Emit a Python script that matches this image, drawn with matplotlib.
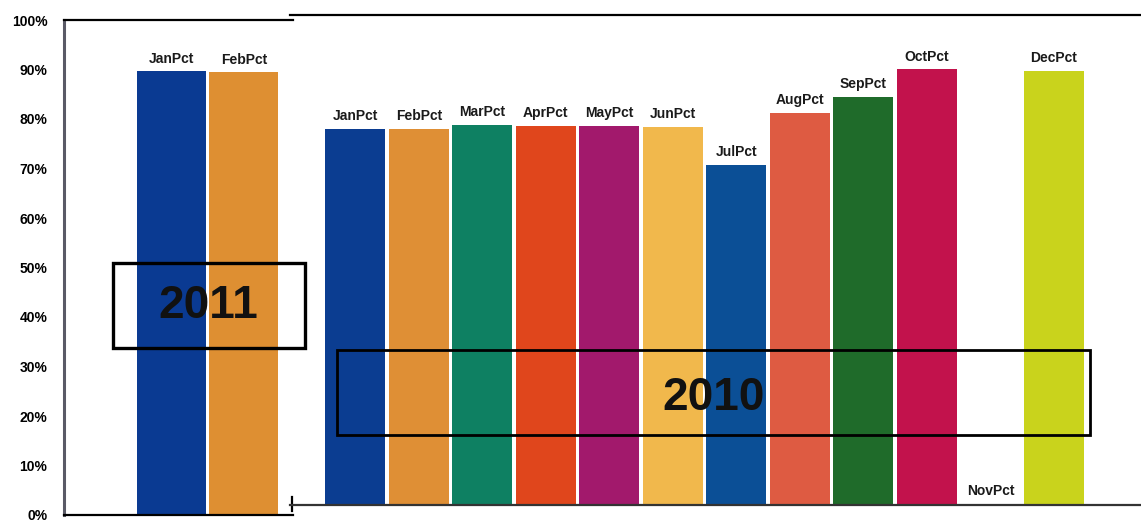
"""
Two overlaid monthly percentage bar charts (2011 and 2010).
"""

import matplotlib
matplotlib.use("Agg")
import matplotlib.pyplot as plt
from matplotlib.patches import Rectangle
from matplotlib.ticker import PercentFormatter

plt.rcParams['font.family'] = ['Liberation Sans', 'DejaVu Sans']

# data
labels_2011 = ['JanPct', 'FebPct']
values_2011 = [0.896, 0.894]
colors_2011 = ['#0a3a92', '#de8f32']

labels_2010 = ['JanPct', 'FebPct', 'MarPct', 'AprPct', 'MayPct', 'JunPct',
               'JulPct', 'AugPct', 'SepPct', 'OctPct', 'NovPct', 'DecPct']
values_2010 = [0.768, 0.767, 0.775, 0.773, 0.774, 0.772,
               0.694, 0.801, 0.833, 0.889, 0.0, 0.886]
colors_2010 = ['#0b3d91', '#df8f35', '#0e8062', '#e0461c', '#a2196c', '#f1b84c',
               '#0b4f96', '#de5b42', '#1f6b2a', '#c2124c', '#ffffff', '#c9d31c']

yticks = [i / 10 for i in range(11)]

W, H = 1141, 522
fig = plt.figure(figsize=(W / 100, H / 100), dpi=100)


def px_box(x0, y0, x1, y1):
    # pixel box (top-left origin) -> figure fraction rect
    return [x0 / W, (H - y1) / H, (x1 - x0) / W, (y1 - y0) / H]


# ---- 2011 chart ----
ax1 = fig.add_axes(px_box(64, 20, 293, 515))
x1 = range(len(values_2011))
ax1.bar(x1, values_2011, width=0.95, color=colors_2011)
for i, (lab, v) in enumerate(zip(labels_2011, values_2011)):
    ax1.text(i, v + 0.012, lab, ha='center', va='bottom',
             fontsize=10, fontweight='bold', color='#1a1a1a')
ax1.set_xlim(-1.48, -1.48 + 229 / 72.5)
ax1.set_ylim(0, 1)
ax1.set_yticks(yticks)
ax1.yaxis.set_major_formatter(PercentFormatter(1.0, decimals=0))
ax1.tick_params(axis='y', length=0, pad=12, labelsize=10)
for t in ax1.get_yticklabels():
    t.set_fontweight('bold')
ax1.set_xticks([])
ax1.spines['right'].set_visible(False)
ax1.spines['left'].set_color('#5a5a66')
ax1.spines['left'].set_linewidth(2.2)
ax1.spines['top'].set_linewidth(1.6)
ax1.spines['bottom'].set_linewidth(1.6)

# ---- 2010 chart ----
ax2 = fig.add_axes(px_box(290, 15, 1141, 505))
ax2.set_facecolor('none')
x2 = range(len(values_2010))
ax2.bar(x2, values_2010, width=0.945, color=colors_2010)
for i, (lab, v) in enumerate(zip(labels_2010, values_2010)):
    if v > 0:
        ax2.text(i, v + 0.012, lab, ha='center', va='bottom',
                 fontsize=10, fontweight='bold', color='#1a1a1a')
    else:
        ax2.text(i, 0.015, lab, ha='center', va='bottom',
                 fontsize=10, fontweight='bold', color='#1a1a1a')
ax2.set_xlim(-1.03, -1.03 + 851 / 63.5)
ax2.set_ylim(0, 1)
ax2.set_xticks([])
ax2.set_yticks([])
ax2.spines['left'].set_visible(False)
ax2.spines['right'].set_visible(False)
ax2.spines['top'].set_linewidth(1.6)
ax2.spines['bottom'].set_linewidth(1.6)
ax2.spines['bottom'].set_color('#333333')
# small tick at the left end of the baseline
ax2.plot([-1.0, -1.0], [-0.012, 0.016], color='black', lw=1.6, clip_on=False)

# ---- year boxes ----
for (x0, y0, x1_, y1_), lw in [((113, 263, 305, 348), 2.4),
                               ((337, 350, 1090, 435), 2.0)]:
    r = px_box(x0, y0, x1_, y1_)
    fig.add_artist(Rectangle((r[0], r[1]), r[2], r[3], transform=fig.transFigure,
                             fill=False, edgecolor='black', linewidth=lw))

fig.text(208 / W, 1 - 306 / H, '2011', ha='center', va='center',
         fontsize=33, fontweight='bold', color='#111111')
fig.text(714 / W, 1 - 398 / H, '2010', ha='center', va='center',
         fontsize=33, fontweight='bold', color='#111111')

fig.savefig('out.png', dpi=100)
